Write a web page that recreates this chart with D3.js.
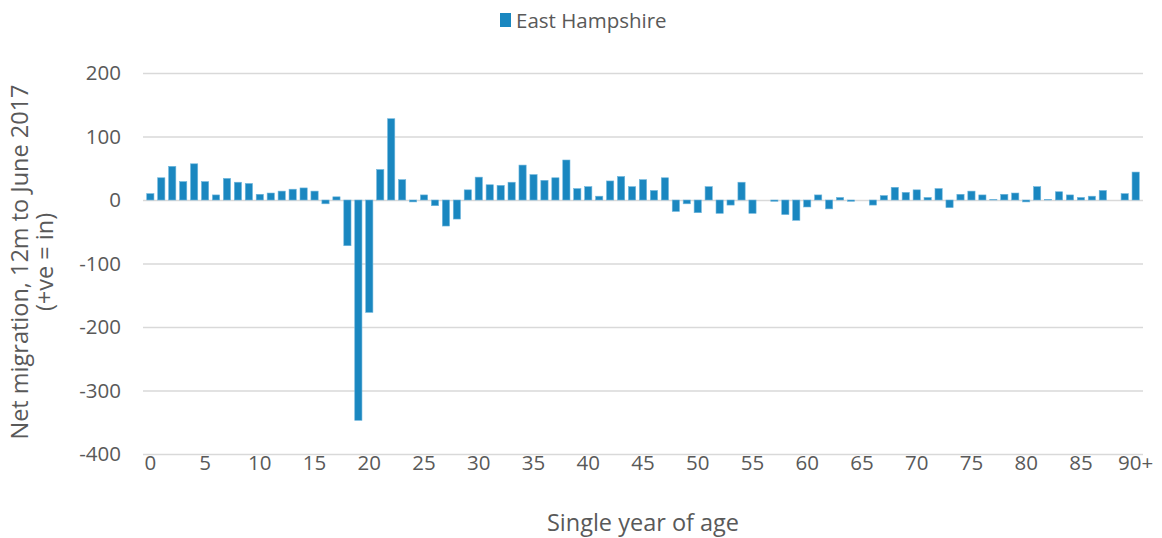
<!DOCTYPE html>
<html>
<head>
<meta charset="utf-8">
<script src="https://cdn.jsdelivr.net/npm/d3@7"></script>
<style>
  body { margin: 0; background: #fff; }
  text { font-family: "Open Sans", "Noto Sans", sans-serif; fill: #595959; }
</style>
</head>
<body>
<div id="chart"></div>
<script>
const ages = d3.range(0, 90).map(String).concat(["90+"]);
const netMigration = [
  10, 35, 53, 29, 57, 29, 8, 34, 28, 26,
  9, 11, 14, 17, 19, 14, -6, 5, -72, -347,
  -177, 48, 128, 32, -3, 8, -9, -41, -30, 16,
  36, 24, 23, 28, 55, 40, 31, 35, 63, 18,
  21, 6, 30, 37, 21, 32, 15, 35, -18, -6,
  -20, 21, -21, -8, 28, -21, 0, -2, -23, -32,
  -11, 8, -14, 4, -2, 0, -8, 7, 20, 12,
  16, 4, 18, -12, 9, 14, 8, 1, 9, 11,
  -3, 21, 1, 13, 8, 4, 6, 15, 0, 10,
  44
];
const yTicks = [200, 100, 0, -100, -200, -300, -400];
const xTickLabels = ["0","5","10","15","20","25","30","35","40","45","50","55","60","65","70","75","80","85","90+"];
const seriesName = "East Hampshire";

let dim = {width: 1162, height: 538};
let plot = {left: 143, right: 1143, top: 73, bottom: 454};

let svg = d3.select('#chart').append('svg')
    .attr('width', dim.width)
    .attr('height', dim.height);

let scaleX = d3.scaleBand()
    .domain(ages)
    .range([plot.left, plot.right])
    .padding(0.34);

let scaleY = d3.scaleLinear()
    .domain([-400, 200])
    .range([plot.bottom, plot.top]);

// gridlines
svg.append('g')
  .selectAll('line')
  .data(yTicks)
  .enter()
  .append('line')
  .attr('x1', plot.left)
  .attr('x2', plot.right)
  .attr('y1', d => scaleY(d) + 0.5)
  .attr('y2', d => scaleY(d) + 0.5)
  .attr('stroke', '#d9d9d9')
  .attr('stroke-width', 1.3);

// y labels (plain hyphen for negatives, like the original)
let axisY = d3.axisLeft(scaleY)
    .tickValues(yTicks)
    .tickFormat(d => String(d))
    .tickSize(0)
    .tickPadding(0);
svg.append('g')
    .attr('transform', `translate(${plot.left - 22},0)`)
    .call(axisY)
    .call(g => g.select('.domain').remove())
    .selectAll('text')
    .style('font-size', '20.5px')
    .attr('fill', '#595959');

// bars
svg.append('g')
  .selectAll('rect')
  .data(netMigration)
  .enter()
  .append('rect')
  .attr('x', (d, i) => scaleX(ages[i]))
  .attr('width', scaleX.bandwidth())
  .attr('y', d => scaleY(Math.max(0, d)))
  .attr('height', d => Math.abs(scaleY(d) - scaleY(0)))
  .attr('fill', '#1a87c0')
  .attr('stroke', '#6fb6dc')
  .attr('stroke-width', 0.6);

// x labels
let axisX = d3.axisBottom(scaleX)
    .tickValues(xTickLabels)
    .tickSize(0)
    .tickPadding(0);
svg.append('g')
    .attr('transform', `translate(0,${plot.bottom + 1})`)
    .call(axisX)
    .call(g => g.select('.domain').remove())
    .selectAll('text')
    .style('font-size', '20.5px')
    .attr('fill', '#595959');

// axis titles
svg.append('text')
    .attr('x', 643)
    .attr('y', 531)
    .attr('text-anchor', 'middle')
    .style('font-size', '23.5px')
    .text('Single year of age');

let yTitle = svg.append('text')
    .attr('transform', 'translate(0,262) rotate(-90)')
    .attr('text-anchor', 'middle')
    .style('font-size', '23.5px');
yTitle.append('tspan').attr('x', 0).attr('y', 28).text('Net migration, 12m to June 2017');
yTitle.append('tspan').attr('x', 0).attr('y', 53).text('(+ve = in)');

// legend
let legend = svg.append('g');
legend.append('rect')
    .attr('x', 500).attr('y', 13)
    .attr('width', 11).attr('height', 14)
    .attr('fill', '#1a87c0');
legend.append('text')
    .attr('x', 516).attr('y', 28)
    .style('font-size', '20.5px')
    .text(seriesName);
</script>
</body>
</html>
